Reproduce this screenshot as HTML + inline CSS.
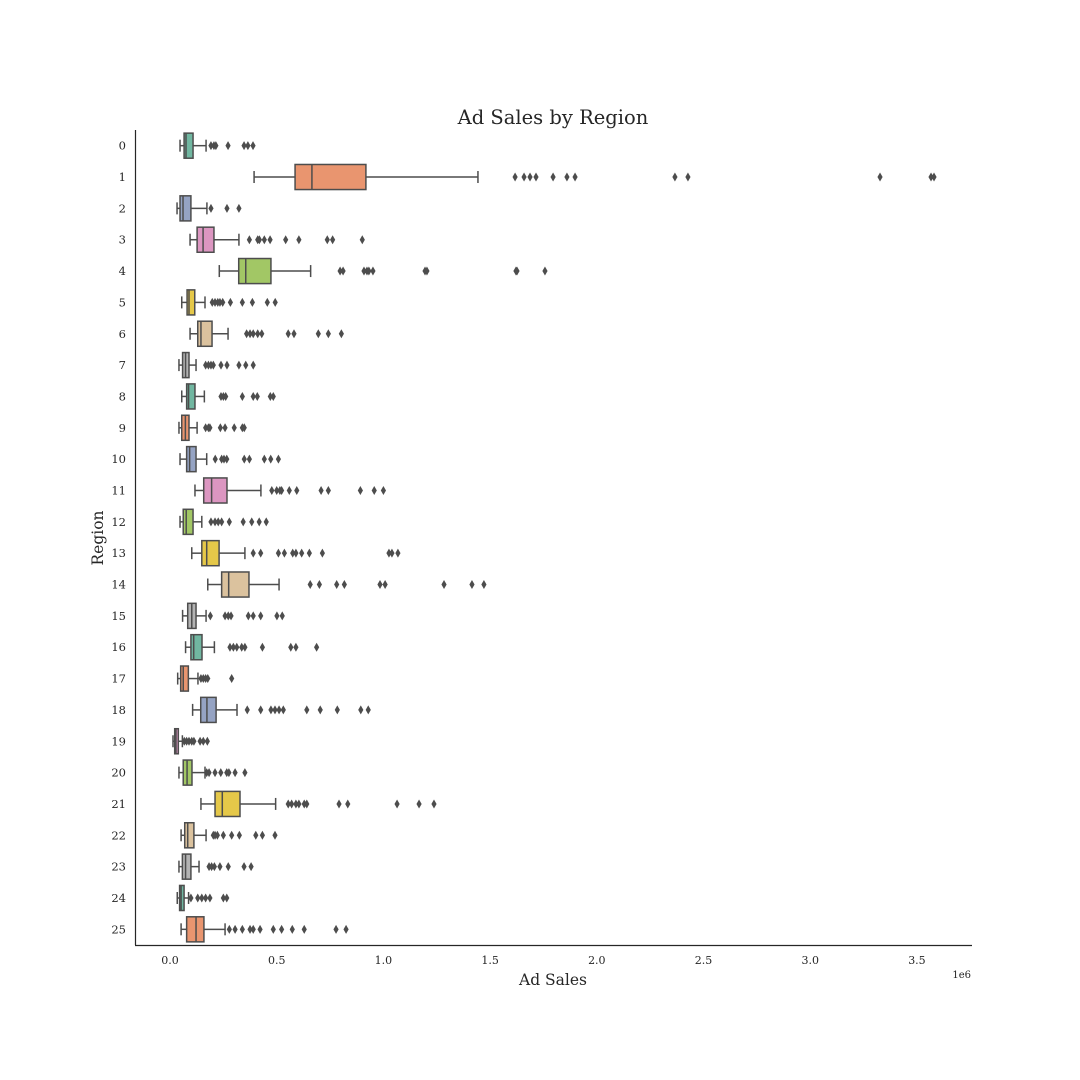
<!DOCTYPE html>
<html><head><meta charset="utf-8">
<style>
html,body{margin:0;padding:0;background:#fff;}
svg{display:block;font-family:"DejaVu Serif","Liberation Serif",serif;}
</style></head>
<body>
<svg id="chart" width="1080" height="1080" viewBox="0 0 1080 1080" xmlns="http://www.w3.org/2000/svg">
<rect width="1080" height="1080" fill="#fff"/>
<text x="553" y="124" text-anchor="middle" font-size="19.5" fill="#262626">Ad Sales by Region</text>
<text x="553" y="985" text-anchor="middle" font-size="15.5" fill="#262626">Ad Sales</text>
<text transform="translate(103,538) rotate(-90)" text-anchor="middle" font-size="15.5" fill="#262626">Region</text>
<text x="971" y="978" text-anchor="end" font-size="10" fill="#262626">1e6</text>
<g id="marks"></g>
<line x1="135.5" y1="130" x2="135.5" y2="945" stroke="#262626" stroke-width="1.2"/>
<line x1="135" y1="945.5" x2="972" y2="945.5" stroke="#262626" stroke-width="1.2"/>
</svg>
<script>
const categories = ["0","1","2","3","4","5","6","7","8","9","10","11","12","13","14","15","16","17","18","19","20","21","22","23","24","25"];
const whiskerLow = [.047,.394,.033,.094,.231,.055,.094,.042,.055,.042,.047,.117,.047,.102,.177,.059,.073,.036,.106,.014,.042,.145,.052,.042,.034,.052];
const q1 = [.066,.586,.047,.127,.322,.080,.130,.059,.078,.055,.078,.158,.062,.149,.242,.083,.098,.050,.144,.022,.062,.211,.069,.058,.045,.078];
const medians = [.075,.665,.061,.155,.355,.089,.145,.073,.087,.072,.092,.195,.076,.172,.275,.102,.111,.062,.173,.028,.080,.245,.083,.073,.052,.122];
const q3 = [.108,.918,.098,.206,.473,.116,.197,.089,.117,.089,.122,.267,.108,.230,.370,.122,.150,.086,.216,.039,.103,.328,.112,.098,.066,.159];
const whiskerHigh = [.169,1.443,.173,.323,.659,.164,.272,.122,.161,.127,.172,.426,.149,.351,.511,.169,.208,.131,.314,.058,.164,.495,.169,.136,.087,.258];
const outliers = [
 [.192,.206,.215,.272,.347,.365,.389],
 [1.617,1.659,1.687,1.715,1.795,1.860,1.898,2.366,2.427,3.327,3.566,3.580],
 [.192,.267,.323],
 [.372,.411,.419,.442,.469,.542,.604,.737,.762,.901],
 [.797,.811,.909,.923,.932,.951,1.195,1.204,1.621,1.626,1.757],
 [.198,.211,.224,.234,.247,.283,.339,.386,.456,.493],
 [.359,.375,.390,.411,.430,.554,.581,.695,.742,.803],
 [.167,.180,.192,.203,.239,.267,.323,.355,.390],
 [.239,.250,.261,.339,.390,.409,.470,.484],
 [.167,.180,.187,.236,.258,.301,.339,.348],
 [.212,.242,.253,.266,.348,.372,.442,.472,.508],
 [.477,.500,.515,.523,.559,.594,.708,.742,.892,.957,1.000],
 [.192,.211,.226,.242,.278,.343,.383,.418,.451],
 [.390,.425,.508,.536,.575,.590,.617,.653,.714,1.026,1.040,1.068],
 [.657,.700,.781,.817,.984,1.008,1.284,1.415,1.471],
 [.189,.258,.273,.286,.367,.390,.425,.501,.526],
 [.281,.297,.313,.336,.351,.433,.566,.590,.687],
 [.145,.156,.167,.177,.289],
 [.362,.425,.473,.492,.511,.531,.641,.704,.784,.894,.929],
 [.067,.078,.089,.102,.112,.141,.156,.175],
 [.172,.183,.211,.238,.266,.276,.305,.351],
 [.554,.570,.590,.604,.629,.641,.792,.833,1.064,1.167,1.237],
 [.203,.211,.222,.250,.289,.325,.402,.433,.492],
 [.183,.195,.208,.234,.273,.347,.380],
 [.098,.130,.149,.167,.187,.250,.266],
 [.278,.305,.339,.375,.390,.422,.484,.523,.573,.629,.778,.825]
];
const xTicks = [0,0.5,1.0,1.5,2.0,2.5,3.0,3.5];
const xTickLabels = ["0.0","0.5","1.0","1.5","2.0","2.5","3.0","3.5"];
const palette = ["#71b7a1","#e9956f","#95a3c3","#dc96c1","#a2c765","#e5c849","#dbc29e","#b3b3b3"];

const xMin=-0.164, xMax=3.758, plotLeft=135, plotRight=972, plotTop=130, plotBottom=945;
function xs(v){return plotLeft+(v-xMin)/(xMax-xMin)*(plotRight-plotLeft);}
function ys(i){return plotTop+(i+0.5)*(plotBottom-plotTop)/categories.length;}
const NS="http://www.w3.org/2000/svg";
const marksG=document.getElementById('marks');
const LC="#4d4d4d";
function mk(tag,attrs,parent){const e=document.createElementNS(NS,tag);for(const k in attrs)e.setAttribute(k,attrs[k]);(parent||marksG).appendChild(e);return e;}

xTicks.forEach((t,i)=>{
  const e=mk('text',{x:xs(t),y:964,'text-anchor':'middle','font-size':11,fill:'#262626'});
  
  
  e.textContent=xTickLabels[i];
});
const bw=(plotBottom-plotTop)/categories.length*0.8;
categories.forEach((c,i)=>{
  const y=ys(i);
  const lab=mk('text',{x:126,y:y+4,'text-anchor':'end','font-size':11.5,fill:'#262626'});
  
  
  lab.textContent=c;
  const grp=mk('g',{});
  
  
  mk('line',{x1:xs(whiskerLow[i]),y1:y,x2:xs(q1[i]),y2:y,stroke:LC,'stroke-width':1.5},grp);
  mk('line',{x1:xs(q3[i]),y1:y,x2:xs(whiskerHigh[i]),y2:y,stroke:LC,'stroke-width':1.5},grp);
  mk('line',{x1:xs(whiskerLow[i]),y1:y-6,x2:xs(whiskerLow[i]),y2:y+6,stroke:LC,'stroke-width':1.5},grp);
  mk('line',{x1:xs(whiskerHigh[i]),y1:y-6,x2:xs(whiskerHigh[i]),y2:y+6,stroke:LC,'stroke-width':1.5},grp);
  mk('rect',{x:xs(q1[i]),y:y-bw/2,width:Math.max(1,xs(q3[i])-xs(q1[i])),height:bw,fill:palette[i%8],stroke:LC,'stroke-width':1.5},grp);
  mk('line',{x1:xs(medians[i]),y1:y-bw/2,x2:xs(medians[i]),y2:y+bw/2,stroke:LC,'stroke-width':1.5},grp);
  outliers[i].forEach(v=>{
    const x=xs(v);
    const d=mk('path',{d:`M${x} ${y-4.5}L${x+2.6} ${y}L${x} ${y+4.5}L${x-2.6} ${y}Z`,fill:LC},grp);
    
    
  });
});
</script>
</body></html>
